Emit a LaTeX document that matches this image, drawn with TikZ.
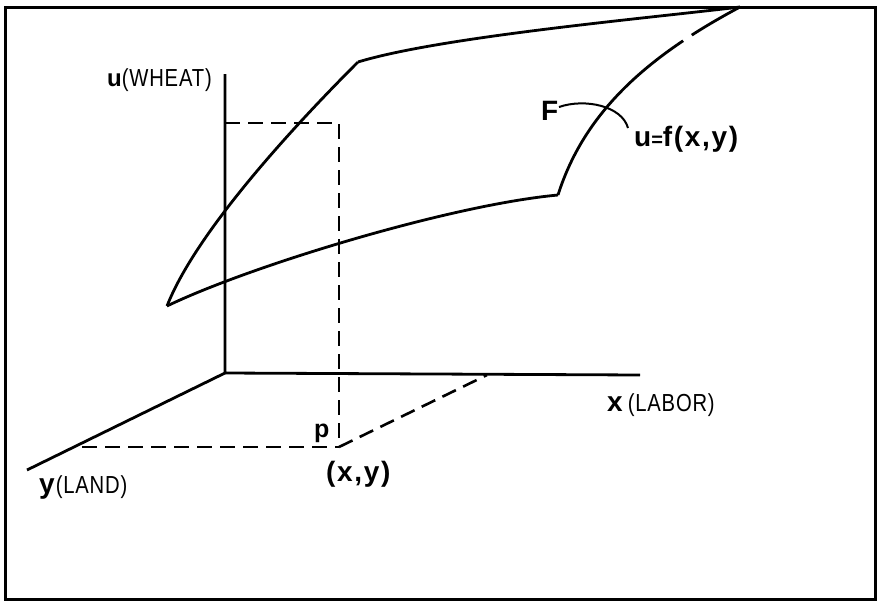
\documentclass[tikz,border=0pt]{standalone}
\usepackage{fontspec}
\setmainfont{Liberation Sans}
\newcommand{\bigv}{\fontsize{28}{28}\selectfont\bfseries\addfontfeature{LetterSpace=6}}
\newcommand{\lbl}[1]{\scalebox{0.92}[1.12]{\fontsize{22}{22}\selectfont\mdseries\addfontfeature{LetterSpace=4}#1}}
\begin{document}
\begin{tikzpicture}[x=1pt,y=-1pt,
  solidline/.style={line width=2.8pt, line join=round},
  dashline/.style={line width=2.6pt, dash pattern=on 15pt off 8pt},
  txt/.style={inner sep=0pt, anchor=base west}]
\useasboundingbox (0,0) rectangle (879,603);
% frame
\draw[line width=3pt] (5,7) rectangle (875,599);

% axes
\coordinate (O) at (225,373);
\coordinate (uTop) at (225,74);
\coordinate (xEnd) at (640,375);
\coordinate (yEnd) at (27,470);
\draw[solidline] (uTop) -- (O) -- (xEnd);
\draw[solidline] (O) -- (yEnd);

% dashed projections
\coordinate (uH) at (225,123);
\coordinate (Ptop) at (339,123);
\coordinate (P) at (339,447);
\coordinate (yP) at (82,447);
\coordinate (xP) at (487,375);
\draw[dashline] (uH) -- (Ptop) -- (P);
\draw[dashline] (yP) -- (P);
\draw[dashline] (P) -- (xP);

% surface
\coordinate (A) at (167,306);
\coordinate (B) at (358,62);
\coordinate (C) at (740,7);
\coordinate (D) at (558,195);
\draw[solidline] (A) .. controls (195,235) and (285,135) .. (B);
\draw[solidline] (B) .. controls (440,37) and (640,19) .. (C);
\draw[solidline] (A) .. controls (250,266) and (450,205) .. (D);
\draw[solidline] (D) .. controls (585,110) and (650,55) .. (C);
% small gap in the right edge
\draw[white, line width=5pt] (683.5,41) -- (691.5,35);

% leader from F
\coordinate (Fl) at (559,107);
\coordinate (Fr) at (628,128);
\draw[line width=2pt] (Fl) .. controls (585,98) and (622,106) .. (Fr);

% labels
\node[txt] (lu) at (107,86) {{\fontsize{24}{24}\selectfont\bfseries u}\lbl{(WHEAT)}};
\node[txt] (lF) at (541,120) {\bigv F};
\node[txt] (lf) at (634,146) {\bigv u{\fontsize{20}{20}\selectfont =}f(x,y)};
\node[txt] (lx) at (607,411) {{\bigv x}\hspace{5pt}\lbl{(LABOR)}};
\node[txt] (ly) at (39,493) {{\bigv y}\hspace{1pt}\lbl{(LAND)}};
\node[txt] (lp) at (314,437) {\fontsize{25}{25}\selectfont\bfseries p};
\node[txt] (lxy) at (326,481) {\bigv (x,y)};
\end{tikzpicture}
\end{document}
